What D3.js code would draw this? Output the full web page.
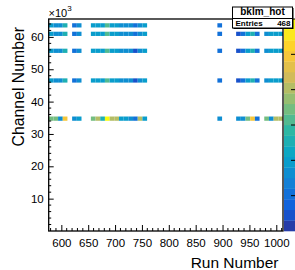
<!DOCTYPE html>
<html><head><meta charset="utf-8">
<script src="https://cdn.jsdelivr.net/npm/d3@7"></script>
<style>
html,body{margin:0;padding:0;background:#fff;}
svg{display:block;font-family:"Liberation Sans",Arial,Helvetica,sans-serif;}
</style></head>
<body>
<svg id="c" width="295" height="270"></svg>
<script>
// ---- histogram binning ----
const runMin = 576.5, runMax = 1012.5, nRunBins = 50;
const chMin = 0, chMax = 65536, nChBins = 50;
const zMin = 0, zMax = 12;
const entries = 468;
const histName = "bklm_hot";

// occupied run-bin columns
const runCols = [0,1,2,3, 5,6, 9,10,11,12,13,14,15,16,17,18,19,20, 36, 40,41,42,43,44, 46,47,48,49];
// occupied channel-bin rows
const chRows = [48, 46, 42, 35, 26];
// counts per row (aligned with runCols)
const row48 = [4,3,3,5, 2,3, 4,4,4,6,4,4,3,3,3,2,3,4, 2, 2,2,4,5,3, 3,4,4,4];
const row46 = [4,3,3,5, 2,3, 4,4,4,6,4,4,3,3,3,2,3,4, 2, 1,2,4,5,2, 3,4,4,4];
const row42 = [4,3,3,5, 2,3, 4,4,4,6,4,4,3,3,3,1,3,4, 2, 1,2,4,5,2, 3,4,4,4];
const row35 = [4,3,3,5, 2,3, 4,4,4,6,4,4,3,3,3,1,3,4, 2, 1,2,4,5,2, 3,4,4,4];
const row26 = [7,7,3,10, 3,4, 7,8,5,12,8,8,4,4,3,2,8,4, 3, 3,3,7,10,2, 7,3,8,8];
const rowCounts = [row48, row46, row42, row35, row26];

const xTickVals = [600,650,700,750,800,850,900,950,1000];
const yTickVals = [10000,20000,30000,40000,50000,60000];
const zTickVals = [2,4,6,8,10,12];

// ROOT kBird palette stops
const birdStops = [0,0.125,0.25,0.375,0.5,0.625,0.75,0.875,1];
const birdR = [0.2082,0.0592,0.0780,0.0232,0.1802,0.5301,0.8186,0.9956,0.9764];
const birdG = [0.1664,0.3599,0.5041,0.6419,0.7178,0.7492,0.7328,0.7862,0.9832];
const birdB = [0.5293,0.8684,0.8385,0.7914,0.6425,0.4662,0.3499,0.1968,0.0539];

// ---- layout ----
const L = 48.7, R = 283, T = 19, B = 231;
const svg = d3.select("#c");

const x = d3.scaleLinear().domain([runMin, runMax]).range([L, R]);
const y = d3.scaleLinear().domain([chMin, chMax]).range([B, T]);
const z = d3.scaleLinear().domain([zMin, zMax]).range([B, T]);
const bird = d3.scaleLinear().domain(birdStops)
  .range(birdStops.map((s,i)=>d3.rgb(birdR[i]*255, birdG[i]*255, birdB[i]*255)))
  .interpolate(d3.interpolateRgb);
const nLevels = 20, nColors = 255;
function levelColor(lev){
  const idx = Math.floor((lev + 0.99) * nColors / nLevels);
  return bird(Math.min(idx, nColors-1) / (nColors-1));
}
function zColor(v){
  let lev = Math.floor(0.01 + (v - zMin) / (zMax - zMin) * nLevels);
  lev = Math.max(0, Math.min(nLevels-1, lev));
  return levelColor(lev);
}

const runW = (runMax - runMin) / nRunBins;
const chW = (chMax - chMin) / nChBins;

const cells = [];
chRows.forEach((r, ri) => {
  runCols.forEach((c, ci) => {
    cells.push({r, c, v: rowCounts[ri][ci]});
  });
});

svg.append("g").selectAll("rect").data(cells).join("rect")
  .attr("x", d => x(runMin + d.c * runW))
  .attr("width", d => x(runMin + (d.c+1) * runW) - x(runMin + d.c * runW))
  .attr("y", d => y(chMin + (d.r+1) * chW))
  .attr("height", d => y(chMin + d.r * chW) - y(chMin + (d.r+1) * chW))
  .attr("fill", d => zColor(d.v));

// ---- palette ----
const levels = d3.range(nLevels);
svg.append("g").selectAll("rect").data(levels).join("rect")
  .attr("x", 284).attr("width", 14)
  .attr("y", d => z(zMin + (d+1)*(zMax-zMin)/nLevels))
  .attr("height", d => z(zMin + d*(zMax-zMin)/nLevels) - z(zMin + (d+1)*(zMax-zMin)/nLevels) + 0.3)
  .attr("fill", d => levelColor(d));
svg.append("g").selectAll("line").data(zTickVals).join("line")
  .attr("x1", 291).attr("x2", 296)
  .attr("y1", d => z(d)).attr("y2", d => z(d))
  .attr("stroke", "#000").attr("stroke-width", 1);

// ---- axes ----
const fs = 11.5;
const xMinor = d3.range(580, 1011, 10).filter(v => v % 50 !== 0);
const yMinor = d3.range(2000, 65000, 2000).filter(v => v % 10000 !== 0);

const gx = svg.append("g").attr("transform", `translate(0,${B})`)
  .call(d3.axisBottom(x).tickValues(xTickVals).tickFormat(d3.format("d"))
        .tickSizeInner(-6).tickSizeOuter(0).tickPadding(7.5));
gx.select(".domain").remove();
gx.selectAll("text").attr("font-size", fs).attr("font-family", "Liberation Sans, Arial, sans-serif");
gx.selectAll("line").attr("stroke-width", 1);
svg.append("g").selectAll("line").data(xMinor).join("line")
  .attr("x1", d => x(d)).attr("x2", d => x(d))
  .attr("y1", B).attr("y2", B - 3).attr("stroke", "#000");

const gy = svg.append("g").attr("transform", `translate(${L},0)`)
  .call(d3.axisLeft(y).tickValues(yTickVals).tickFormat(d => d/1000)
        .tickSizeInner(-5).tickSizeOuter(0).tickPadding(5));
gy.select(".domain").remove();
gy.selectAll("text").attr("font-size", fs).attr("font-family", "Liberation Sans, Arial, sans-serif");
svg.append("g").selectAll("line").data(yMinor).join("line")
  .attr("x1", L).attr("x2", L + 2.5)
  .attr("y1", d => y(d)).attr("y2", d => y(d)).attr("stroke", "#000");

// frame
svg.append("rect").attr("x", L).attr("y", T).attr("width", R - L).attr("height", B - T)
  .attr("fill", "none").attr("stroke", "#000").attr("stroke-width", 1.3);

// x10^3
const ex = svg.append("text").attr("x", 48.5).attr("y", 17).attr("font-size", 11);
ex.append("tspan").text("\u00d710");
ex.append("tspan").attr("font-size", 8).attr("dy", -6).text("3");

// axis titles
svg.append("text").attr("x", 278.5).attr("y", 267.5).attr("text-anchor", "end")
  .attr("font-size", 15.5).text("Run Number");
svg.append("text").attr("transform", "translate(24,27) rotate(-90)")
  .attr("text-anchor", "end").attr("font-size", 15.8).text("Channel Number");

// ---- stats box ----
const sb = svg.append("g");
sb.append("rect").attr("x", 233.5).attr("y", 8).attr("width", 60).attr("height", 21)
  .attr("fill", "#000");
sb.append("rect").attr("x", 232.5).attr("y", 7).attr("width", 60).attr("height", 21)
  .attr("fill", "#fff").attr("stroke", "#000").attr("stroke-width", 1);
sb.append("line").attr("x1", 232.5).attr("x2", 292.5).attr("y1", 18.5).attr("y2", 18.5)
  .attr("stroke", "#000");
sb.append("text").attr("x", 262.5).attr("y", 15).attr("text-anchor", "middle")
  .attr("font-size", 10).attr("font-weight", "bold").text(histName);
sb.append("text").attr("x", 235.5).attr("y", 26.3).attr("font-size", 8).attr("font-weight", "bold").text("Entries");
sb.append("text").attr("x", 290.5).attr("y", 26.3).attr("text-anchor", "end")
  .attr("font-size", 8).attr("font-weight", "bold").text(entries);
</script>
</body></html>
